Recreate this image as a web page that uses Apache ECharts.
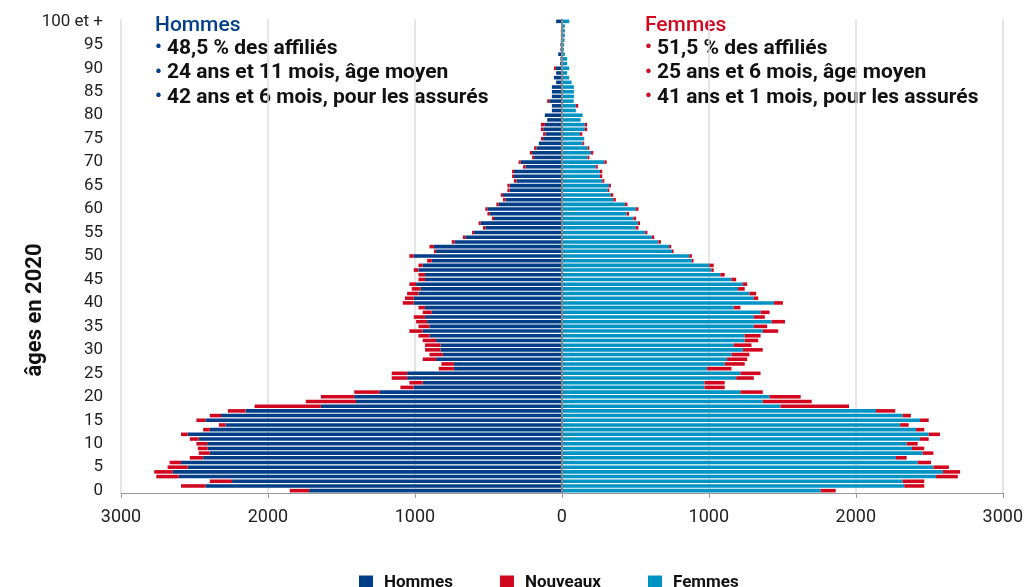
<!DOCTYPE html>
<html style="height: 100%">
<head>
    <meta charset="utf-8">
</head>
<body style="height: 100%; margin: 0">
<div id="container" style="width: 1026px; height: 587px"></div>
<script src="https://cdn.jsdelivr.net/npm/echarts@6/dist/echarts.min.js"></script>
<script type="text/javascript">
    // âges 0 .. 99 puis "100 et +"
    var ages = [];
    for (var i = 0; i < 100; i++) ages.push(String(i));
    ages.push('100 et +');

    var hommes = [1720, 2425, 2244, 2607, 2648, 2546, 2592, 2441, 2396, 2410,
        2414, 2471, 2546, 2396, 2289, 2425, 2319, 2152, 1640, 1401,
        1413, 1242, 1008, 947, 1053, 1053, 735, 735, 856, 810,
        826, 826, 856, 901, 947, 901, 917, 931, 885, 931,
        1008, 1008, 976, 962, 992, 931, 931, 976, 947, 885,
        1008, 856, 871, 730, 657, 599, 521, 553, 462, 491,
        507, 430, 384, 401, 355, 355, 309, 326, 326, 248,
        280, 189, 203, 173, 157, 128, 111, 127, 116, 100,
        116, 68, 68, 86, 68, 68, 68, 39, 54, 39,
        41, 12, 10, 25, 10, 10, 7, 7, 7, 5,
        39];
    var nouveauxH = [132, 167, 152, 153, 126, 137, 77, 91, 75, 68,
        73, 61, 46, 45, 45, 62, 77, 121, 451, 342,
        227, 171, 91, 91, 105, 105, 103, 85, 91, 91,
        105, 105, 91, 75, 91, 75, 75, 77, 62, 45,
        75, 60, 77, 60, 46, 45, 45, 32, 29, 32,
        30, 14, 30, 19, 17, 13, 16, 14, 14, 16,
        14, 16, 17, 15, 16, 16, 17, 13, 13, 16,
        14, 14, 15, 16, 0, 15, 17, 16, 27, 0,
        0, 0, 0, 14, 0, 0, 0, 0, 0, 0,
        13, 0, 0, 0, 0, 0, 0, 0, 0, 0,
        0];
    var femmes = [1761, 2330, 2319, 2546, 2592, 2528, 2421, 2273, 2455, 2382,
        2346, 2437, 2496, 2410, 2302, 2437, 2319, 2137, 1488, 1367,
        1413, 1215, 971, 971, 1186, 1215, 988, 1108, 1124, 1154,
        1231, 1169, 1244, 1244, 1367, 1306, 1427, 1306, 1352, 1169,
        1443, 1306, 1276, 1199, 1231, 1154, 1078, 1017, 1003, 885,
        867, 749, 730, 657, 612, 567, 503, 517, 487, 441,
        503, 430, 350, 334, 312, 321, 275, 259, 259, 230,
        289, 175, 198, 175, 141, 152, 123, 156, 156, 127,
        141, 95, 95, 80, 82, 82, 82, 66, 50, 36,
        50, 36, 36, 20, 14, 14, 18, 20, 20, 20,
        50];
    var nouveauxF = [102, 136, 147, 148, 118, 105, 91, 73, 73, 84,
        75, 59, 77, 56, 58, 59, 56, 131, 466, 333,
        212, 152, 137, 137, 120, 137, 166, 136, 137, 122,
        136, 121, 92, 108, 105, 91, 91, 75, 61, 46,
        61, 30, 46, 45, 30, 32, 30, 16, 30, 11,
        18, 11, 14, 17, 16, 15, 18, 15, 18, 16,
        18, 16, 17, 16, 11, 13, 14, 16, 16, 14,
        16, 12, 16, 12, 11, 0, 16, 16, 16, 0,
        0, 0, 16, 0, 0, 0, 0, 0, 0, 0,
        0, 0, 0, 0, 0, 0, 0, 0, 0, 0,
        0];

    var notesHommes = ['48,5 % des affiliés', '24 ans et 11 mois, âge moyen', '42 ans et 6 mois, pour les assurés'];
    var notesFemmes = ['51,5 % des affiliés', '25 ans et 6 mois, âge moyen', '41 ans et 1 mois, pour les assurés'];

    var BLEU = '#003f87', ROUGE = '#d0071e', CYAN = '#0094c4';
    var FONT = 'Roboto, sans-serif';

    function neg(arr) {
        return arr.map(function (v) { return -v; });
    }

    // bloc de texte en haut (titre + 3 puces)
    function bloc(x, titre, couleur, lignes) {
        var els = [{
            type: 'text', left: x, top: 15,
            style: {text: titre, fill: couleur, font: '500 21px ' + FONT}
        }];
        lignes.forEach(function (l, k) {
            els.push({
                type: 'text', left: x, top: 39 + k * 24.5,
                style: {text: '•', fill: couleur, font: 'bold 19px ' + FONT}
            });
            els.push({
                type: 'text', left: x + 12, top: 38 + k * 24.5,
                style: {text: l, fill: '#111', font: 'bold 21px ' + FONT}
            });
        });
        return els;
    }

    var dom = document.getElementById("container");
    var myChart = echarts.init(dom);

    var barStyle = {
        type: 'bar',
        stack: 'total',
        barCategoryGap: '24%',
        silent: true
    };

    option = {
        animation: false,
        textStyle: {fontFamily: FONT},
        grid: {left: 121, right: 21, top: 19, bottom: 94},
        legend: {
            data: ['Hommes', 'Nouveaux', 'Femmes'],
            left: 354,
            top: 569,
            icon: 'rect',
            itemWidth: 14,
            itemHeight: 14,
            itemGap: 47,
            textStyle: {fontSize: 17, fontWeight: 'bold', color: '#111', padding: [0, 0, 0, 6]}
        },
        xAxis: {
            type: 'value',
            min: -3000,
            max: 3000,
            interval: 1000,
            axisLine: {show: true, onZero: false, lineStyle: {color: '#999', width: 1}},
            axisTick: {show: true, length: 5, lineStyle: {color: '#999'}},
            axisLabel: {
                fontSize: 18, color: '#222', margin: 15,
                formatter: function (v) { return Math.abs(v); }
            },
            splitLine: {lineStyle: {color: '#dcdcdc', width: 1.5}}
        },
        yAxis: {
            type: 'category',
            data: ages,
            axisLine: {show: false, onZero: false},
            axisTick: {show: false},
            axisLabel: {interval: 4, fontSize: 17, color: '#222', margin: 18}
        },
        graphic: bloc(155, 'Hommes', BLEU, notesHommes)
            .concat(bloc(645, 'Femmes', ROUGE, notesFemmes))
            .concat([{
                type: 'text', x: 35, y: 310, rotation: Math.PI / 2,
                style: {
                    text: 'âges en 2020', fill: '#111', font: 'bold 22px ' + FONT,
                    align: 'center', verticalAlign: 'middle'
                }
            }]),
        series: [
            Object.assign({}, barStyle, {
                name: 'Hommes', data: neg(hommes), itemStyle: {color: BLEU}
            }),
            Object.assign({}, barStyle, {
                name: 'Femmes', data: femmes, itemStyle: {color: CYAN},
                markLine: {
                    silent: true, symbol: 'none', label: {show: false},
                    lineStyle: {color: '#888', width: 2, type: 'solid'},
                    data: [{xAxis: 0}]
                }
            }),
            Object.assign({}, barStyle, {
                name: 'Nouveaux', data: neg(nouveauxH), itemStyle: {color: ROUGE}
            }),
            Object.assign({}, barStyle, {
                name: 'Nouveaux', data: nouveauxF, itemStyle: {color: ROUGE}
            })
        ]
    };

    if (option && typeof option === "object") {
        myChart.setOption(option, true);
    }
</script>
</body>
</html>
